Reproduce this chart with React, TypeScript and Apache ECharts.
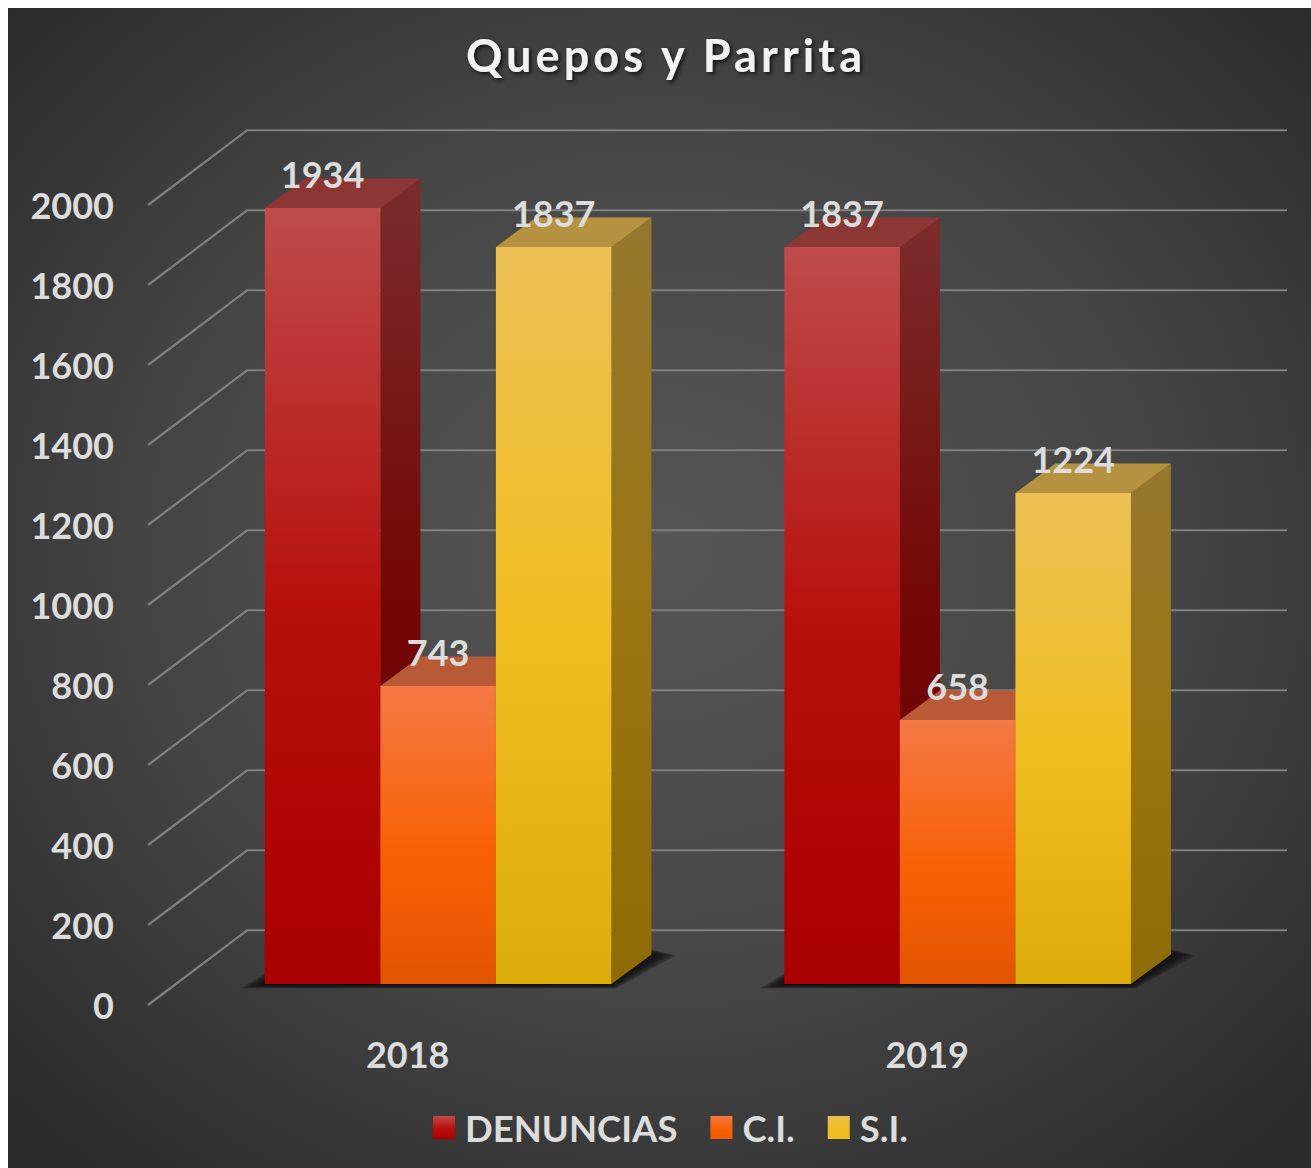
import React, { useEffect, useRef } from "react";
import * as echarts from "echarts";

const title = "Quepos y Parrita";
const categories = ["2018", "2019"];
const denuncias = [1934, 1837];
const ci = [743, 658];
const si = [1837, 1224];
const yTicks = [0, 200, 400, 600, 800, 1000, 1200, 1400, 1600, 1800, 2000];

const FONT = "Lato";
const LABEL = "#dcdcdc";
const lin = (stops: [number, string][], x2 = 0, y2 = 1) =>
  new echarts.graphic.LinearGradient(0, 0, x2, y2, stops.map(([offset, color]) => ({ offset, color })));

const palettes = [
  {
    front: [[0, "#BE4B4B"], [0.52, "#B70F0B"], [1, "#A90000"]] as [number, string][],
    side: [[0, "#7B2C2C"], [0.52, "#740606"], [1, "#6A0000"]] as [number, string][],
    top: "#8C3735",
    legend: [[0, "#C04A4A"], [0.55, "#B80F0A"], [1, "#B00000"]] as [number, string][],
  },
  {
    front: [[0, "#F47845"], [0.55, "#F96106"], [1, "#E35400"]] as [number, string][],
    side: [[0, "#A8522A"], [1, "#943E00"]] as [number, string][],
    top: "#B85A36",
    legend: [[0, "#F47845"], [0.55, "#F96106"], [1, "#F05A00"]] as [number, string][],
  },
  {
    front: [[0, "#ECC055"], [0.52, "#F0BE20"], [1, "#DCAB0C"]] as [number, string][],
    side: [[0, "#95782F"], [0.52, "#9A7512"], [1, "#8E6B07"]] as [number, string][],
    top: "#B5923F",
    legend: [[0, "#ECC055"], [0.55, "#F0BE20"], [1, "#F0BE20"]] as [number, string][],
  },
];

// projection of the pseudo-3D box
const WALL_DX = 99;
const WALL_DY = -74.75;
const BAR_SHIFT_X = 30.4;
const BAR_SHIFT_Y = -21;
const DEPTH_X = 40;
const DEPTH_Y = -29.5;
const BAR_FRACTION = 0.2224;
const BAR_SCALE = 1.003;
const SHADOW_LAYERS = [0, 1, 2, 3, 4, 5];

function barGeom(api: any, cat: number, value: number, idx: number) {
  const base = api.coord([cat, 0]);
  const tip = api.coord([cat, value]);
  const w = api.size([1, 0])[0] * BAR_FRACTION;
  const cx = base[0] + BAR_SHIFT_X;
  const x0 = cx - 1.5 * w + idx * w;
  const yb = base[1] + BAR_SHIFT_Y;
  const yt = yb - (base[1] - tip[1]) * BAR_SCALE;
  return { x0, x1: x0 + w, yb, yt, w, cx };
}

function barSeries(name: string, values: number[], idx: number) {
  const p = palettes[idx];
  return {
    type: "custom",
    name,
    z: 3 + idx,
    silent: true,
    itemStyle: { color: lin(p.legend) },
    encode: { x: 0, y: 1 },
    data: values.map((v, i) => [i, v]),
    renderItem: (_: any, api: any) => {
      const cat = api.value(0);
      const val = api.value(1);
      const { x0, x1, yb, yt } = barGeom(api, cat, val, idx);
      return {
        type: "group",
        children: [
          {
            type: "polygon",
            shape: { points: [[x1, yb], [x1 + DEPTH_X, yb + DEPTH_Y], [x1 + DEPTH_X, yt + DEPTH_Y], [x1, yt]] },
            style: { fill: lin(p.side) },
          },
          {
            type: "polygon",
            shape: { points: [[x0, yt], [x1, yt], [x1 + DEPTH_X, yt + DEPTH_Y], [x0 + DEPTH_X, yt + DEPTH_Y]] },
            style: { fill: p.top },
          },
          {
            type: "rect",
            shape: { x: x0, y: yt, width: x1 - x0, height: yb - yt },
            style: { fill: lin(p.front) },
          },
          {
            type: "text",
            z2: 10,
            style: {
              text: String(val),
              x: (x0 + x1) / 2,
              y: yt - 34,
              align: "center",
              verticalAlign: "middle",
              fill: LABEL,
              font: `bold 36px ${FONT}`,
            },
          },
        ],
      };
    },
  };
}

export default function App() {
  const ref = useRef<HTMLDivElement>(null);
  useEffect(() => {
    if (!ref.current) return;
    const chart = echarts.init(ref.current, undefined, { renderer: "svg" });
    chart.setOption({
      animation: false,
      backgroundColor: {
        type: "radial",
        x: 0.5,
        y: 0.47,
        r: 0.7,
        colorStops: [
          { offset: 0, color: "#565656" },
          { offset: 0.55, color: "#454545" },
          { offset: 1, color: "#2a2a2a" },
        ],
      },
      title: {
        text: title,
        left: 653,
        top: 19,
        textAlign: "center",
        textStyle: {
          fontFamily: FONT,
          fontWeight: "bold",
          fontSize: 45,
          color: "#f2f2f2",
          textShadowColor: "rgba(0,0,0,0.75)",
          textShadowBlur: 4,
          textShadowOffsetX: 2,
          textShadowOffsetY: 2,
        },
      },
      legend: {
        left: 425,
        top: 1101,
        padding: 0,
        itemWidth: 22,
        itemHeight: 23,
        itemGap: 33,
        icon: "rect",
        selectedMode: false,
        data: ["DENUNCIAS", "C.I.", "S.I."],
        textStyle: { fontFamily: FONT, fontWeight: "bold", fontSize: 36.5, color: LABEL, padding: [0, 0, 0, 5] },
      },
      grid: { left: 140, right: 124, top: 197, bottom: 163 },
      xAxis: {
        type: "category",
        data: categories,
        axisLine: { show: false },
        axisTick: { show: false },
        axisLabel: { margin: 31, fontFamily: FONT, fontWeight: "bold", fontSize: 36, color: LABEL },
      },
      yAxis: {
        type: "value",
        min: 0,
        max: 2000,
        interval: 200,
        axisLine: { show: false },
        axisTick: { show: false },
        splitLine: { show: false },
        axisLabel: {
          margin: 34,
          fontFamily: FONT,
          fontWeight: "bold",
          fontSize: 36,
          color: LABEL,
          formatter: (v: number) => String(v),
        },
      },
      series: [
        {
          type: "custom",
          name: "grid",
          z: 1,
          silent: true,
          encode: { y: 0 },
          data: yTicks.map((t) => [t]),
          renderItem: (params: any, api: any) => {
            const y = api.coord([0, api.value(0)])[1];
            const cs = params.coordSys;
            return {
              type: "polyline",
              shape: {
                points: [
                  [cs.x, y],
                  [cs.x + WALL_DX, y + WALL_DY],
                  [cs.x + cs.width + WALL_DX + 1, y + WALL_DY],
                ],
              },
              style: { fill: "none", stroke: "#7f7f7f", lineWidth: 2.2 },
            };
          },
        },
        {
          type: "custom",
          name: "floor",
          z: 2,
          silent: true,
          encode: { x: 0, y: 1 },
          data: categories.map((_, i) => [i, 0]),
          renderItem: (_: any, api: any) => {
            const { x0, yb, w } = barGeom(api, api.value(0), 0, 0);
            const x1 = x0 + 3 * w;
            return {
              type: "group",
              children: SHADOW_LAYERS.map((k) => ({
                type: "polygon",
                shape: {
                  points: [
                    [x0 - 2 - k * 4.5, yb + 1 + k * 0.7],
                    [x1 + k * 0.8, yb + 1 + k * 0.7],
                    [x1 + DEPTH_X + 2 + k * 4.5, yb + DEPTH_Y + k * 0.2],
                    [x1 + DEPTH_X, yb + DEPTH_Y - 1 - k * 0.8],
                    [x0, yb - 3 - k * 1.5],
                  ],
                },
                style: { fill: "rgba(12,12,12,0.3)" },
              })),
            };
          },
        },
        barSeries("DENUNCIAS", denuncias, 0),
        barSeries("C.I.", ci, 1),
        barSeries("S.I.", si, 2),
      ],
    });
    // Office-style tracking of the title glyphs
    ref.current.querySelectorAll("text").forEach((t) => {
      if (t.textContent === title) t.setAttribute("letter-spacing", "4.1");
    });
    return () => chart.dispose();
  }, []);
  return <div ref={ref} style={{ position: "absolute", left: 8, top: 8, width: 1303, height: 1160 }} />;
}
